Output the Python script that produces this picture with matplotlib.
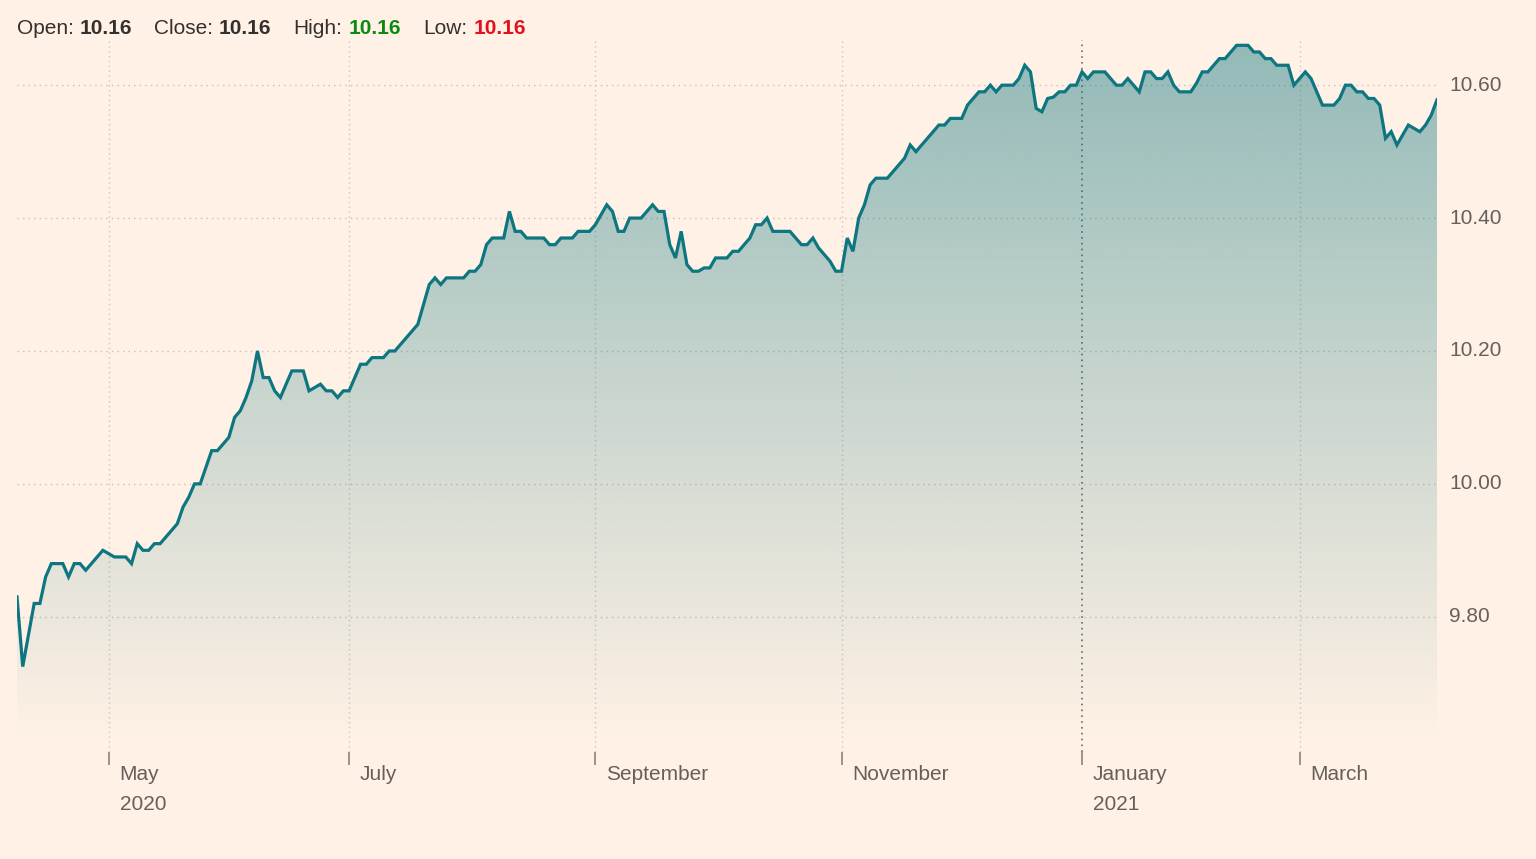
import numpy as np
import pandas as pd
import matplotlib
matplotlib.use('Agg')
import matplotlib.pyplot as plt
from matplotlib.transforms import offset_copy

plt.rcParams['font.family'] = ['Liberation Sans', 'DejaVu Sans']

# trading calendar (US market holidays skipped)
start_date = '2020-04-08'
end_date = '2021-04-05'
holidays = ['2020-04-10', '2020-05-25', '2020-07-03', '2020-09-07', '2020-11-26',
            '2020-12-25', '2021-01-01', '2021-01-18', '2021-02-15', '2021-04-02']

# price: trading-day number since start, value
trade_day = [0, 1, 3, 4, 5, 6, 8, 9, 10, 11, 12, 13, 15, 17, 19, 20, 21, 22, 23, 24,
             25, 26, 27, 28, 29, 30, 31, 32, 34, 35, 37, 38, 39, 40, 41, 42, 43, 44, 45, 46,
             47, 48, 50, 51, 53, 54, 55, 56, 57, 58, 59, 60, 61, 62, 64, 65, 66, 67, 68, 69,
             70, 71, 72, 73, 74, 75, 78, 79, 80, 81, 82, 83, 85, 86, 87, 88, 89, 92, 93, 94,
             95, 97, 98, 100, 101, 102, 103, 104, 105, 106, 107, 109, 110, 111, 112, 113, 114, 115, 116, 117,
             118, 119, 120, 121, 122, 124, 125, 126, 127, 128, 129, 130, 131, 132, 135, 136, 137, 138, 139, 140,
             141, 142, 143, 144, 145, 146, 147, 148, 149, 150, 152, 153, 154, 155, 156, 157, 158, 159, 161, 162,
             163, 165, 166, 167, 168, 169, 170, 171, 172, 174, 175, 176, 177, 178, 179, 180, 181, 182, 183, 184,
             185, 186, 187, 188, 190, 191, 192, 193, 194, 195, 196, 197, 198, 199, 200, 201, 202, 203, 205, 206,
             207, 208, 209, 210, 211, 212, 213, 215, 216, 217, 218, 219, 220, 222, 223, 224, 225, 226, 227, 228,
             230, 231, 232, 233, 234, 235, 236, 237, 238, 239, 240, 241, 242, 243, 245, 246, 247, 248]
price = [9.83, 9.725, 9.82, 9.82, 9.86, 9.88, 9.88, 9.86, 9.88, 9.88, 9.87, 9.88, 9.90, 9.89, 9.89, 9.88, 9.91, 9.90, 9.90, 9.91,
         9.91, 9.92, 9.93, 9.94, 9.965, 9.98, 10.00, 10.00, 10.05, 10.05, 10.07, 10.10, 10.11, 10.13, 10.155, 10.20, 10.16, 10.16, 10.14, 10.13,
         10.15, 10.17, 10.17, 10.14, 10.15, 10.14, 10.14, 10.13, 10.14, 10.14, 10.16, 10.18, 10.18, 10.19, 10.19, 10.20, 10.20, 10.21, 10.22, 10.23,
         10.24, 10.27, 10.30, 10.31, 10.30, 10.31, 10.31, 10.32, 10.32, 10.33, 10.36, 10.37, 10.37, 10.41, 10.38, 10.38, 10.37, 10.37, 10.36, 10.36,
         10.37, 10.37, 10.38, 10.38, 10.39, 10.405, 10.42, 10.41, 10.38, 10.38, 10.40, 10.40, 10.41, 10.42, 10.41, 10.41, 10.36, 10.34, 10.38, 10.33,
         10.32, 10.32, 10.325, 10.325, 10.34, 10.34, 10.35, 10.35, 10.36, 10.37, 10.39, 10.39, 10.40, 10.38, 10.38, 10.37, 10.36, 10.36, 10.37, 10.355,
         10.345, 10.335, 10.32, 10.32, 10.37, 10.35, 10.40, 10.42, 10.45, 10.46, 10.46, 10.47, 10.48, 10.49, 10.51, 10.50, 10.51, 10.52, 10.54, 10.54,
         10.55, 10.55, 10.57, 10.58, 10.59, 10.59, 10.60, 10.59, 10.60, 10.60, 10.61, 10.63, 10.62, 10.565, 10.56, 10.58, 10.582, 10.59, 10.59, 10.60,
         10.60, 10.62, 10.61, 10.62, 10.62, 10.61, 10.60, 10.60, 10.61, 10.60, 10.59, 10.62, 10.62, 10.61, 10.61, 10.62, 10.60, 10.59, 10.59, 10.603,
         10.62, 10.62, 10.63, 10.64, 10.64, 10.65, 10.66, 10.66, 10.65, 10.65, 10.64, 10.64, 10.63, 10.63, 10.60, 10.61, 10.62, 10.61, 10.59, 10.57,
         10.57, 10.58, 10.60, 10.60, 10.59, 10.59, 10.58, 10.58, 10.57, 10.52, 10.53, 10.51, 10.525, 10.54, 10.53, 10.54, 10.555, 10.578]

y_ticks = [9.80, 10.00, 10.20, 10.40, 10.60]
tick_months = ['2020-05', '2020-07', '2020-09', '2020-11', '2021-01', '2021-03']
month_names = ['May', 'July', 'September', 'November', 'January', 'March']
year_names = ['2020', '', '', '', '2021', '']

header_parts = [('Open:', 'normal', '#33302e'), ('10.16', 'bold', '#33302e'),
                ('Close:', 'normal', '#33302e'), ('10.16', 'bold', '#33302e'),
                ('High:', 'normal', '#33302e'), ('10.16', 'bold', '#0b8a12'),
                ('Low:', 'normal', '#33302e'), ('10.16', 'bold', '#e3101b')]
header_x = [17, 80, 154, 219, 293, 349, 423, 474]

bg = '#fff1e5'
teal = '#0d7680'
grey_txt = '#66605c'

days = pd.bdate_range(start_date, end_date, freq='C', holidays=holidays)
x = np.array(trade_day)
y = np.array(price)

fig = plt.figure(figsize=(15.36, 8.59), dpi=100, facecolor=bg)
W, H = 1536, 859
ax = fig.add_axes([17 / W, 1 - 745 / H, 1420 / W, 705 / H])
ax.set_facecolor(bg)
ymin, ymax = 9.607, 10.668
ax.set_xlim(0, len(days) - 1)
ax.set_ylim(ymin, ymax)
for s in ax.spines.values():
    s.set_visible(False)
ax.set_xticks([])
ax.set_yticks([])

# horizontal grid + labels on the right
ylab_tr = offset_copy(ax.get_yaxis_transform(), fig=fig, x=12, y=0, units='dots')
for v in y_ticks:
    ax.axhline(v, color='#c9bfb6', lw=1, ls=(0, (1, 3)), zorder=1)
    ax.text(1.0, v, f'{v:.2f}', transform=ylab_tr,
            ha='left', va='center', fontsize=15, color=grey_txt)

# month ticks at the first trading day of the month
month_pos = [int(np.argmax(days.strftime('%Y-%m') == m)) for m in tick_months]
xt = ax.get_xaxis_transform()
lab_tr = offset_copy(xt, fig=fig, x=11, y=0, units='dots')
for pos, mname, yname in zip(month_pos, month_names, year_names):
    dark = yname == '2021'
    ax.vlines(pos, -0.01, 1.0, transform=xt, clip_on=False,
              color='#6f6a66' if dark else '#cfc5bc', lw=1.2 if dark else 1,
              ls=(0, (1, 2.5)), zorder=1)
    ax.vlines(pos, -0.0284, -0.0099, transform=xt, clip_on=False,
              color='#8a837e', lw=1.2)
    ax.text(pos, -0.0425, mname, transform=lab_tr, ha='left', va='center',
            fontsize=15, color=grey_txt)
    if yname:
        ax.text(pos, -0.0837, yname, transform=lab_tr, ha='left', va='center',
                fontsize=15, color=grey_txt)

# gradient area under the line
poly = ax.fill_between(x, y, ymin, color='none', lw=0)
img = np.zeros((256, 1, 4))
img[..., :3] = matplotlib.colors.to_rgb(teal)
img[..., 3] = np.linspace(0.45, 0.0, 256)[:, None]
im = ax.imshow(img, aspect='auto', extent=[0, len(days) - 1, ymin, ymax],
               origin='upper', zorder=2)
im.set_clip_path(poly.get_paths()[0], transform=ax.transData)

ax.plot(x, y, color=teal, lw=2.3, zorder=3, solid_joinstyle='miter')

# header
for (txt, weight, col), px in zip(header_parts, header_x):
    fig.text(px / W, 1 - 28 / H, txt, fontsize=15, fontweight=weight,
             color=col, ha='left', va='center')

fig.savefig('out.png', dpi=100, facecolor=bg)
